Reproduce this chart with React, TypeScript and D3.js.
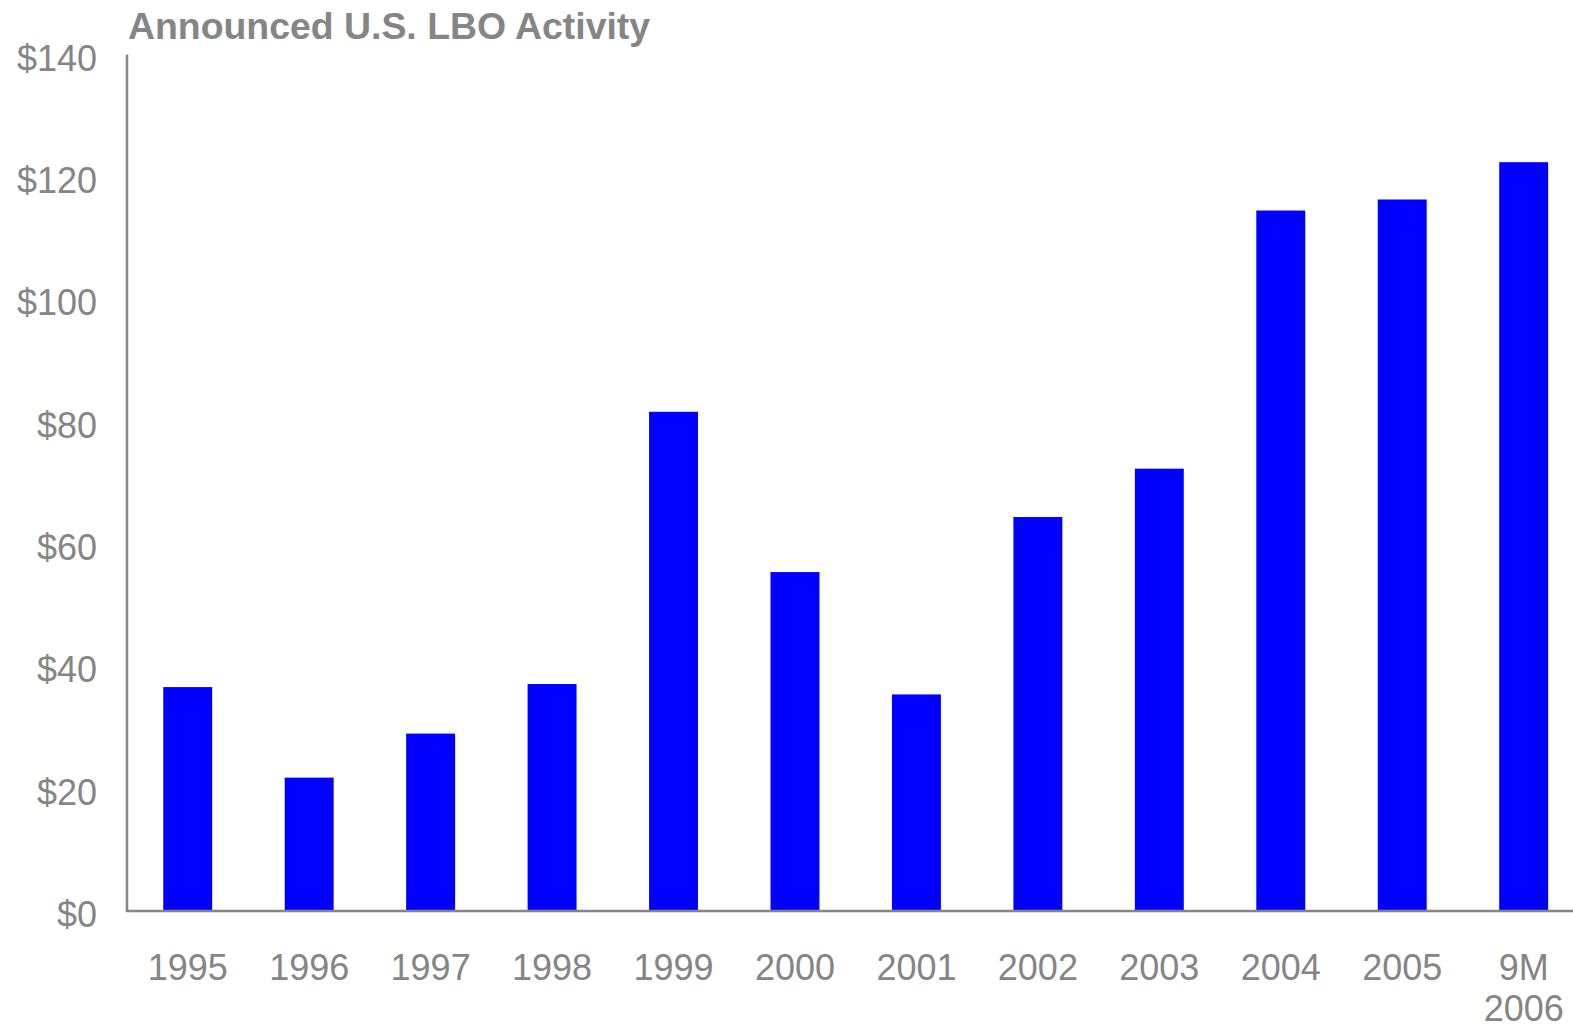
import React from "react";
import * as d3 from "d3";

// Announced U.S. LBO activity, $ billions
const categories: string[] = ["1995", "1996", "1997", "1998", "1999", "2000", "2001", "2002", "2003", "2004", "2005", "9M\n2006"];
const values: number[] = [36.6, 21.8, 29.0, 37.1, 81.6, 55.4, 35.4, 64.4, 72.3, 114.5, 116.3, 122.4];
const yTicks: number[] = [0, 20, 40, 60, 80, 100, 120, 140];
const title = "Announced U.S. LBO Activity";

const W = 1573;
const H = 1029;
const GRAY = "#858585";
const BAR = "#0000FF";
const FONT = "'Liberation Sans', Arial, Helvetica, sans-serif";

export default function App() {
  const x0 = 127;
  const x1 = 1584.4;
  const yBottom = 911;
  const yTop = 54.5;

  const x = d3
    .scaleBand<string>()
    .domain(categories)
    .range([x0, x1])
    .paddingInner(0.597)
    .paddingOuter(0.2985);

  const y = d3.scaleLinear().domain([0, 140]).range([yBottom, yTop]);

  return (
    <svg
      width={W}
      height={H}
      style={{ position: "fixed", left: 0, top: 0, background: "#fff" }}
      fontFamily={FONT}
    >
      <text x={128} y={39} fontSize={37.4} fontWeight="bold" fill={GRAY}>
        {title}
      </text>

      {/* bars */}
      {categories.map((c, i) => (
        <rect
          key={c}
          x={x(c)}
          y={y(values[i])}
          width={x.bandwidth()}
          height={yBottom - y(values[i])}
          fill={BAR}
        />
      ))}

      {/* axes */}
      <line x1={x0} x2={x0} y1={yTop} y2={yBottom} stroke={GRAY} strokeWidth={2.5} />
      <line x1={x0 - 1.25} x2={W} y1={yBottom} y2={yBottom} stroke={GRAY} strokeWidth={2.5} />

      {/* y tick labels */}
      {yTicks.map((t) => (
        <text
          key={t}
          x={97}
          y={y(t) + 16}
          fontSize={36}
          textAnchor="end"
          fill={GRAY}
        >
          {"$" + d3.format("d")(t)}
        </text>
      ))}

      {/* x category labels */}
      {categories.map((c) => {
        const cx = (x(c) as number) + x.bandwidth() / 2;
        const lines = c.split("\n");
        return (
          <text key={c} x={cx} y={980} fontSize={36} textAnchor="middle" fill={GRAY}>
            {lines.map((ln, j) => (
              <tspan key={j} x={cx} dy={j === 0 ? 0 : 41}>
                {ln}
              </tspan>
            ))}
          </text>
        );
      })}
    </svg>
  );
}
